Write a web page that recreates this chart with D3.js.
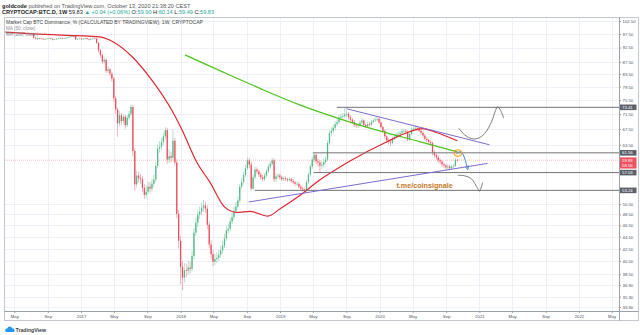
<!DOCTYPE html>
<html><head><meta charset="utf-8">
<script src="https://cdn.jsdelivr.net/npm/d3@7"></script>
<style>
html,body{margin:0;padding:0;background:#fff;}
svg{display:block;font-family:"Liberation Sans",Arial,sans-serif;}
</style></head><body>
<svg id="chart" width="640" height="335"></svg>
<script>
// ---- Weekly candles of BTC dominance (%), one bar per week from firstWeek ----
const firstWeek = "2016-04-04";
const firstOpen = 97.7;
const closes = [
  97.9, 98.0, 97.8, 97.9, 98.1, 97.9, 97.7, 97.8, 98.0, 97.8,
  97.6, 97.7, 97.8, 97.6, 96.1, 95.8, 95.6, 95.9, 95.7, 95.5,
  95.6, 95.8, 95.9, 95.7, 95.4, 95.5, 95.7, 95.9, 96.0, 95.8,
  95.9, 96.1, 96.3, 96.5, 96.6, 96.8, 95.5, 95.6, 95.8, 95.5,
  95.7, 95.9, 95.6, 95.4, 95.7, 95.9, 95.8, 94.2, 91.5, 89.8,
  87.6, 88.2, 84.5, 85.0, 83.6, 82.0, 76.0, 72.8, 69.0, 71.2,
  69.6, 70.8, 68.5, 70.5, 71.6, 73.5, 62.0, 54.5, 56.4, 55.8,
  55.6, 53.8, 52.3, 53.0, 54.0, 53.6, 54.6, 55.5, 58.5, 62.6,
  63.0, 64.2, 65.6, 67.2, 60.0, 60.8, 60.4, 64.5, 59.3, 48.6,
  43.8, 39.6, 38.0, 39.1, 39.0, 39.5, 39.3, 41.3, 45.2, 47.0,
  48.5, 49.0, 49.8, 50.2, 49.6, 46.6, 43.2, 41.6, 40.4, 40.8,
  41.0, 41.5, 42.2, 43.0, 44.2, 45.6, 45.9, 47.2, 48.0, 49.2,
  50.0, 51.2, 54.0, 55.0, 56.5, 58.0, 59.8, 58.8, 53.6, 56.0,
  57.7, 57.3, 56.6, 56.0, 55.6, 56.4, 57.3, 58.4, 59.0, 59.8,
  55.6, 56.2, 56.4, 56.0, 55.6, 55.8, 55.6, 55.4, 55.6, 55.2,
  54.9, 54.6, 54.6, 54.0, 53.6, 53.4, 53.2, 55.0, 56.6, 58.4,
  60.0, 61.1, 59.6, 59.3, 58.6, 58.8, 59.4, 60.0, 64.0, 66.5,
  67.0, 67.8, 68.8, 69.3, 70.5, 70.8, 71.0, 71.4, 71.6, 70.6,
  70.0, 69.4, 68.6, 68.4, 68.4, 69.2, 69.8, 68.6, 68.2, 68.8,
  68.6, 69.4, 69.8, 70.0, 70.2, 69.2, 68.0, 67.0, 65.6, 64.6,
  64.2, 64.0, 65.0, 65.4, 66.0, 66.2, 66.5, 66.9, 67.0, 66.8,
  64.8, 66.2, 67.3, 67.6, 67.8, 67.6, 67.0, 66.5, 65.8, 65.0,
  64.7, 64.2, 63.9, 61.6, 61.0, 60.5, 59.8, 59.5, 58.9, 58.6,
  58.2, 58.4, 58.0, 58.4, 58.5, 59.90, 59.83
];
const highs = [
  98.2, 98.3, 98.2, 98.1, 98.4, 98.3, 98.1, 98.0, 98.2, 98.2,
  98.0, 97.9, 98.0, 98.0, 97.8, 96.4, 96.0, 96.1, 96.1, 95.9,
  95.8, 96.0, 96.1, 96.1, 95.9, 95.7, 95.9, 96.1, 96.3, 96.2,
  96.1, 96.3, 96.5, 96.7, 96.9, 97.1, 97.0, 95.9, 96.0, 96.0,
  95.9, 96.1, 96.1, 95.8, 95.9, 96.1, 96.1, 96.0, 94.5, 92.0,
  90.4, 89.0, 88.6, 86.0, 85.5, 84.2, 82.6, 76.8, 73.4, 72.4,
  71.8, 71.6, 71.2, 71.2, 72.4, 74.2, 74.0, 62.6, 57.5, 57.2,
  56.8, 56.2, 54.6, 54.2, 55.0, 55.0, 55.6, 56.6, 59.4, 63.6,
  64.4, 65.2, 66.6, 68.0, 67.8, 62.4, 61.8, 67.3, 65.2, 60.0,
  49.4, 44.6, 40.5, 40.2, 40.1, 40.6, 40.4, 42.2, 46.0, 47.9,
  49.3, 50.0, 50.8, 51.3, 51.0, 50.2, 47.2, 43.9, 42.2, 41.6,
  41.9, 42.3, 43.0, 43.8, 45.0, 46.4, 46.8, 47.9, 48.8, 50.0,
  50.9, 52.0, 54.6, 55.9, 57.2, 58.8, 60.5, 60.3, 59.4, 56.6,
  58.3, 58.2, 57.7, 57.0, 56.5, 56.9, 57.8, 58.9, 59.6, 60.4,
  60.2, 56.8, 56.9, 56.8, 56.4, 56.2, 56.2, 55.9, 56.0, 55.9,
  55.6, 55.3, 55.1, 55.0, 54.4, 54.0, 53.8, 55.4, 57.0, 58.9,
  60.6, 61.56, 61.4, 60.2, 59.8, 59.5, 60.1, 60.8, 64.6, 67.2,
  68.0, 68.6, 69.5, 70.1, 71.2, 71.6, 71.8, 73.41, 72.6, 72.0,
  71.2, 70.5, 69.9, 69.1, 69.0, 69.8, 70.4, 70.2, 69.0, 69.3,
  69.2, 69.9, 70.3, 70.6, 70.9, 70.6, 69.6, 68.4, 67.4, 66.0,
  65.2, 64.9, 65.6, 66.0, 66.6, 66.8, 67.1, 67.5, 67.6, 67.5,
  67.2, 66.7, 67.9, 68.2, 68.4, 68.3, 68.0, 67.4, 66.9, 66.2,
  65.5, 65.1, 64.7, 64.3, 62.2, 61.5, 61.0, 60.3, 59.9, 59.3,
  59.0, 58.9, 58.8, 58.9, 59.0, 60.3, 60.14
];
const lows = [
  97.5, 97.7, 97.6, 97.6, 97.8, 97.7, 97.4, 97.5, 97.6, 97.6,
  97.3, 97.4, 97.5, 97.3, 95.8, 95.5, 95.3, 95.4, 95.5, 95.2,
  95.3, 95.4, 95.6, 95.5, 95.1, 95.2, 95.3, 95.5, 95.7, 95.6,
  95.6, 95.7, 95.9, 96.1, 96.3, 96.4, 95.2, 95.2, 95.4, 95.2,
  95.3, 95.5, 95.4, 95.1, 95.2, 95.5, 95.5, 93.8, 90.8, 88.9,
  86.8, 86.9, 83.8, 83.9, 82.8, 81.0, 75.0, 71.5, 65.5, 68.2,
  68.6, 68.9, 67.6, 68.0, 69.8, 71.0, 60.8, 53.2, 53.8, 54.9,
  54.6, 52.9, 51.5, 51.7, 52.5, 52.8, 53.0, 54.0, 55.0, 58.0,
  61.6, 62.2, 63.4, 64.8, 59.0, 59.2, 59.4, 59.8, 58.6, 47.8,
  42.5, 37.0, 36.2, 37.3, 38.0, 38.4, 38.6, 38.9, 40.8, 44.6,
  46.2, 47.6, 48.4, 49.0, 48.8, 45.8, 42.6, 40.8, 39.7, 39.9,
  40.2, 40.5, 41.0, 41.7, 42.6, 43.8, 45.0, 45.4, 46.7, 47.5,
  48.7, 49.6, 50.8, 53.4, 54.5, 56.0, 57.6, 58.0, 53.24, 53.4,
  55.5, 56.8, 56.1, 55.5, 55.1, 55.2, 56.0, 56.9, 57.9, 58.6,
  55.0, 55.1, 55.8, 55.5, 55.2, 55.2, 55.2, 55.0, 55.0, 54.8,
  54.5, 54.2, 54.2, 53.6, 53.2, 53.0, 52.8, 52.9, 54.6, 56.2,
  57.9, 59.4, 58.9, 58.3, 57.03, 57.8, 58.2, 58.9, 59.6, 63.5,
  65.6, 66.4, 67.2, 68.2, 68.9, 70.0, 70.2, 70.5, 70.8, 70.0,
  69.4, 68.8, 68.0, 67.8, 67.8, 68.0, 68.9, 68.1, 67.7, 67.9,
  68.1, 68.2, 69.0, 69.4, 69.6, 68.8, 67.6, 66.5, 65.0, 63.9,
  63.6, 63.2, 63.6, 64.6, 65.0, 65.6, 65.8, 66.1, 66.4, 66.2,
  64.3, 64.5, 65.9, 67.0, 67.2, 67.1, 66.6, 66.0, 65.3, 64.5,
  64.2, 63.7, 63.3, 61.0, 60.4, 59.9, 59.2, 58.9, 58.4, 58.0,
  57.7, 57.8, 57.5, 57.7, 58.0, 58.3, 59.49
];

// ---- Moving averages, [date, value] ----
const ma50 = [
  ["2016-03-29", 98.2], ["2016-07-09", 97.5], ["2017-03-11", 96.4], ["2017-04-28", 94.6],
  ["2017-07-10", 89.0], ["2017-09-10", 82.4], ["2017-12-04", 72.0], ["2018-01-06", 67.3],
  ["2018-03-02", 59.3], ["2018-04-19", 54.9], ["2018-06-12", 49.9], ["2018-07-26", 48.9],
  ["2018-09-12", 49.1], ["2018-11-17", 48.2], ["2019-01-01", 49.6], ["2019-03-14", 52.2],
  ["2019-05-26", 55.4], ["2019-09-13", 59.6], ["2020-01-26", 64.2], ["2020-04-20", 66.8],
  ["2020-06-06", 67.6], ["2020-07-27", 66.6], ["2020-10-12", 64.5]
];
const ma200 = [
  ["2018-01-17", 89.9], ["2018-05-25", 84.6], ["2018-10-19", 79.0], ["2019-03-14", 74.1],
  ["2019-08-08", 70.2], ["2020-01-01", 67.0], ["2020-05-26", 64.3], ["2020-10-12", 61.8]
];

// ---- Axis ticks ----
const priceTicks = [102.5, 97.5, 92.5, 87.5, 83.5, 79.5, 75.5, 71.5, 67.5, 63.5,
                    50.5, 48.5, 46.5, 44.5, 42.5, 40.5, 38.5, 36.9, 35.3, 33.9];
const timeTicks = [
  "2016-05-01", "2016-09-01", "2017-01-01", "2017-05-01", "2017-09-01", "2018-01-01",
  "2018-05-01", "2018-09-01", "2019-01-01", "2019-05-01", "2019-09-01", "2020-01-01",
  "2020-05-01", "2020-09-01", "2021-01-01", "2021-05-01", "2021-09-01", "2022-01-01",
  "2022-05-01"
];

// ---- Drawings on the chart ----
const levels = [            // horizontal levels: start date, price
  ["2019-07-28", 73.41], ["2019-05-01", 61.56], ["2019-05-04", 57.03], ["2018-09-30", 53.24]
];
const channelTop = [["2019-09-02", 73.0], ["2021-02-07", 63.5]];
const channelBottom = [["2018-09-08", 50.9], ["2021-01-31", 59.1]];
const breakoutPath = [
  ["2020-10-17", 67.7], ["2020-11-08", 66.0], ["2020-11-26", 65.2], ["2020-12-22", 65.0],
  ["2021-01-20", 66.3], ["2021-02-15", 69.5], ["2021-03-01", 72.5], ["2021-03-09", 73.6],
  ["2021-03-20", 72.5], ["2021-03-31", 70.4]
];
const breakdownPath = [
  ["2020-10-14", 56.4], ["2020-11-01", 56.4], ["2020-12-02", 55.7], ["2020-12-26", 53.6],
  ["2021-01-01", 53.1], ["2021-01-13", 54.9]
];
const rejectionArrow = [
  ["2020-10-09", 61.3], ["2020-10-20", 61.8], ["2020-10-31", 61.4], ["2020-11-09", 60.0],
  ["2020-11-18", 58.0]
];
const touchPoint = ["2020-10-14", 61.5];
const signature = { text: "t.me/coinsignale", date: "2020-06-14", value: 54.3 };

// Tags on the price scale: value, colour kind
const priceTags = [
  [73.41, "level"], [61.56, "level"], [59.83, "last"], [58.56, "last"],
  [57.03, "level"], [53.24, "level"]
];
const lastClose = 59.83;

// ---- Layout ----
const plot = { left: 5, right: 619, top: 18, bottom: 311 };
const parse = d3.timeParse("%Y-%m-%d");
const svg = d3.select("#chart");

const x = d3.scaleTime()
  .domain([parse("2016-03-28"), parse("2022-05-28")])
  .range([plot.left, plot.right]);
const y = d3.scaleLog()
  .domain([33.39, 103.7])
  .range([plot.bottom, plot.top]);

const C = {
  up: "#53b987", down: "#eb4d5c", ma50: "#e0262f", ma200: "#4fc21c",
  grid: "#edf1f7", axis: "#9aa0a8", text: "#4c525e", level: "#747474",
  purple: "#7d6bd1", blue: "#3a7fd8", orange: "#f29a1e", sig: "#c4782a",
  tagGray: "#5d606b", tagRed: "#f0505f"
};

svg.append("rect").attr("width", 640).attr("height", 335).attr("fill", "#fff");

svg.append("defs").append("clipPath").attr("id", "plotClip")
  .append("rect")
  .attr("x", plot.left).attr("y", plot.top)
  .attr("width", plot.right - plot.left).attr("height", plot.bottom - plot.top);

// Grid
const grid = svg.append("g");
grid.selectAll("line.h").data(priceTicks).join("line")
  .attr("x1", plot.left).attr("x2", plot.right)
  .attr("y1", d => Math.round(y(d)) + 0.5).attr("y2", d => Math.round(y(d)) + 0.5)
  .attr("stroke", C.grid).attr("stroke-width", 1);
grid.selectAll("line.v").data(timeTicks).join("line")
  .attr("x1", d => Math.round(x(parse(d))) + 0.5).attr("x2", d => Math.round(x(parse(d))) + 0.5)
  .attr("y1", plot.top).attr("y2", plot.bottom)
  .attr("stroke", C.grid).attr("stroke-width", 1);

const g = svg.append("g").attr("clip-path", "url(#plotClip)");

// Last price line
g.append("line")
  .attr("x1", plot.left).attr("x2", plot.right)
  .attr("y1", y(lastClose)).attr("y2", y(lastClose))
  .attr("stroke", "#f4aab1").attr("stroke-width", 0.8).attr("stroke-dasharray", "1,1");

// Candles
const start = parse(firstWeek);
const bars = closes.map((c, i) => ({
  date: d3.timeDay.offset(start, 7 * i),
  open: i === 0 ? firstOpen : closes[i - 1],
  close: c, high: highs[i], low: lows[i]
}));
const candle = g.append("g").selectAll("g").data(bars).join("g");
candle.append("line")
  .attr("x1", d => x(d.date)).attr("x2", d => x(d.date))
  .attr("y1", d => y(d.high)).attr("y2", d => y(d.low))
  .attr("stroke", d => d.close >= d.open ? C.up : C.down)
  .attr("stroke-width", 0.6).attr("opacity", 0.75);
candle.append("rect")
  .attr("x", d => x(d.date) - 0.65).attr("width", 1.3)
  .attr("y", d => y(Math.max(d.open, d.close)))
  .attr("height", d => Math.max(0.6, Math.abs(y(d.open) - y(d.close))))
  .attr("fill", d => d.close >= d.open ? C.up : C.down);

// Moving averages
const pathOf = d3.line().x(d => x(parse(d[0]))).y(d => y(d[1])).curve(d3.curveMonotoneX);
g.append("path").attr("d", pathOf(ma200)).attr("fill", "none")
  .attr("stroke", C.ma200).attr("stroke-width", 1.2);
g.append("path").attr("d", pathOf(ma50)).attr("fill", "none")
  .attr("stroke", C.ma50).attr("stroke-width", 1.2);

// Horizontal levels
g.selectAll("line.level").data(levels).join("line")
  .attr("x1", d => x(parse(d[0]))).attr("x2", plot.right)
  .attr("y1", d => y(d[1])).attr("y2", d => y(d[1]))
  .attr("stroke", C.level).attr("stroke-width", 1);

// Channel lines
const straight = d3.line().x(d => x(parse(d[0]))).y(d => y(d[1]));
[channelTop, channelBottom].forEach(l =>
  g.append("path").attr("d", straight(l)).attr("fill", "none")
    .attr("stroke", C.purple).attr("stroke-width", 1));

// Scenario sketches
const smooth = d3.line().x(d => x(parse(d[0]))).y(d => y(d[1])).curve(d3.curveCatmullRom.alpha(0.5));
g.append("path").attr("d", smooth(breakoutPath)).attr("fill", "none")
  .attr("stroke", "#6f6f6f").attr("stroke-width", 0.9);
g.append("path").attr("d", smooth(breakdownPath)).attr("fill", "none")
  .attr("stroke", "#6f6f6f").attr("stroke-width", 0.9);

svg.select("defs").append("marker").attr("id", "arrowHead")
  .attr("viewBox", "0 0 10 10").attr("refX", 6).attr("refY", 5)
  .attr("markerWidth", 4).attr("markerHeight", 4).attr("orient", "auto")
  .append("path").attr("d", "M0,0 L10,5 L0,10").attr("fill", "none")
  .attr("stroke", C.blue).attr("stroke-width", 2);
g.append("path").attr("d", smooth(rejectionArrow)).attr("fill", "none")
  .attr("stroke", C.blue).attr("stroke-width", 1)
  .attr("marker-end", "url(#arrowHead)");

g.append("ellipse")
  .attr("cx", x(parse(touchPoint[0]))).attr("cy", y(touchPoint[1]))
  .attr("rx", 4).attr("ry", 3.4)
  .attr("fill", "rgba(242,154,30,0.15)").attr("stroke", C.orange).attr("stroke-width", 1);

g.append("text")
  .attr("x", x(parse(signature.date))).attr("y", y(signature.value))
  .attr("dy", "0.35em").attr("text-anchor", "middle")
  .attr("font-size", 7.2).attr("font-weight", "bold").attr("fill", C.sig)
  .text(signature.text);

// ---- Axes ----
const yAxis = svg.append("g").attr("transform", `translate(${plot.right},0)`)
  .call(d3.axisRight(y).tickValues(priceTicks).tickFormat(d3.format(".2f"))
    .tickSize(2).tickPadding(1.5));
yAxis.select(".domain").remove();
yAxis.selectAll("line").attr("stroke", C.axis);
yAxis.selectAll("text").attr("font-size", 4.3).attr("fill", C.text)
  .attr("font-family", "Liberation Sans, Arial, sans-serif");

const fmtTime = d => d.getMonth() === 0 ? d3.timeFormat("%Y")(d) : d3.timeFormat("%b")(d);
const xAxis = svg.append("g").attr("transform", `translate(0,${plot.bottom})`)
  .call(d3.axisBottom(x).tickValues(timeTicks.map(parse)).tickFormat(fmtTime)
    .tickSize(2).tickPadding(1.5));
xAxis.select(".domain").remove();
xAxis.selectAll("line").attr("stroke", C.axis);
xAxis.selectAll("text").attr("font-size", 4.3).attr("fill", C.text)
  .attr("font-family", "Liberation Sans, Arial, sans-serif");

// Price tags
const tag = svg.append("g").selectAll("g").data(priceTags).join("g")
  .attr("transform", d => `translate(${plot.right},${y(d[0])})`);
tag.append("rect").attr("x", 0).attr("y", -2.8).attr("width", 17.5).attr("height", 5.6)
  .attr("fill", d => d[1] === "last" ? C.tagRed : C.tagGray);
tag.append("text").attr("x", 3).attr("dy", "0.35em")
  .attr("font-size", 4.3).attr("fill", "#fff")
  .text(d => d3.format(".2f")(d[0]));

// Frame
const frame = svg.append("g").attr("fill", "none");
frame.append("rect").attr("x", 4.5).attr("y", 17.5).attr("width", 634).attr("height", 303)
  .attr("stroke", "#c3c7ce");
frame.append("line").attr("x1", plot.right + 0.5).attr("x2", plot.right + 0.5)
  .attr("y1", 17.5).attr("y2", 320.5).attr("stroke", "#9aa0a8");
frame.append("line").attr("x1", 4.5).attr("x2", 638.5)
  .attr("y1", plot.bottom + 0.5).attr("y2", plot.bottom + 0.5).attr("stroke", "#9aa0a8");

// ---- Header texts ----
const head1 = svg.append("text").attr("x", 2).attr("y", 7.6).attr("font-size", 5.6).attr("fill", "#555");
head1.append("tspan").attr("font-weight", "bold").attr("fill", "#222").text("goldcode");
head1.append("tspan").text(" published on TradingView.com, October 13, 2020 21:38:20 CEST");

const teal = "#26a69a";
const head2 = svg.append("text").attr("x", 2).attr("y", 13.6).attr("font-size", 5.6).attr("fill", "#222");
[["CRYPTOCAP:BTC.D, 1W ", "#222", "bold"], ["59.83 ", "#222", "normal"],
 ["▲ +0.04 (+0.06%) ", teal, "normal"], ["O:", "#222", "normal"], ["59.90 ", teal, "normal"],
 ["H:", "#222", "normal"], ["60.14 ", teal, "normal"], ["L:", "#222", "normal"],
 ["59.49 ", teal, "normal"], ["C:", "#222", "normal"], ["59.83", teal, "normal"]]
  .forEach(([t, c, w]) => head2.append("tspan").attr("fill", c).attr("font-weight", w).text(t));

svg.append("text").attr("x", 6).attr("y", 24.3).attr("font-size", 5).attr("fill", "#444")
  .text("Market Cap BTC Dominance, % (CALCULATED BY TRADINGVIEW), 1W, CRYPTOCAP");
svg.append("text").attr("x", 6).attr("y", 30.2).attr("font-size", 4.6).attr("fill", "#8a8f98")
  .text("MA (50, close)");
svg.append("text").attr("x", 6).attr("y", 35.8).attr("font-size", 4.6).attr("fill", "#8a8f98")
  .text("MA (200, close)");

// Footer logo
const logo = svg.append("g").attr("transform", "translate(5,326)");
logo.append("path")
  .attr("d", "M1,6 a2,2 0 0 1 1.2,-3.6 a2.6,2.6 0 0 1 5,0.2 a1.8,1.8 0 0 1 1.3,3.4 Z")
  .attr("fill", "#2196f3");
logo.append("text").attr("x", 10.5).attr("y", 5.6).attr("font-size", 5.2)
  .attr("font-weight", "bold").attr("fill", "#3b3f46").text("TradingView");
</script>
</body></html>
